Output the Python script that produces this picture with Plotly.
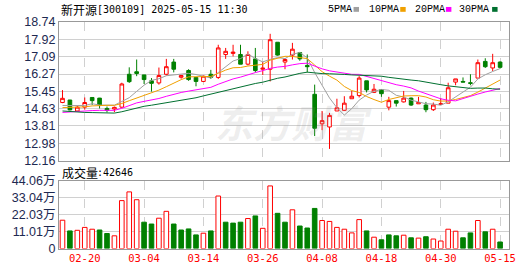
import plotly.graph_objects as go
import pandas as pd

# ---------------- data ----------------
dates = ["02-17", "02-18", "02-19", "02-20", "02-21", "02-24", "02-25", "02-26", "02-27", "02-28",
         "03-03", "03-04", "03-05", "03-06", "03-07", "03-10", "03-11", "03-12", "03-13", "03-14",
         "03-17", "03-18", "03-19", "03-20", "03-21", "03-24", "03-25", "03-26", "03-27", "03-28",
         "03-31", "04-01", "04-02", "04-03", "04-07", "04-08", "04-09", "04-10", "04-11", "04-14",
         "04-15", "04-16", "04-17", "04-18", "04-21", "04-22", "04-23", "04-24", "04-25", "04-28",
         "04-29", "04-30", "05-06", "05-07", "05-08", "05-09", "05-12", "05-13", "05-14", "05-15"]

opens = [14.92, 15.04, 14.52, 14.70, 15.16, 15.13, 14.64, 14.61, 14.70, 16.26,
         16.38, 16.23, 15.95, 15.85, 16.26, 16.84, 16.12, 16.44, 16.11, 15.92,
         16.26, 16.11, 17.20, 17.25, 17.20, 16.74, 16.99, 16.50, 16.50, 17.78,
         16.84, 17.17, 17.29, 16.68, 15.31, 13.91, 13.76, 14.52, 14.55, 15.10,
         15.25, 15.95, 15.40, 15.53, 14.70, 15.01, 14.95, 15.13, 14.86, 14.80,
         14.58, 14.83, 14.89, 15.89, 15.92, 15.86, 16.08, 16.87, 16.56, 16.84]
highs = [15.51, 15.04, 14.76, 15.16, 15.16, 15.14, 14.73, 14.73, 15.86, 16.59,
         16.96, 16.23, 16.08, 16.58, 16.99, 16.99, 16.22, 16.50, 16.11, 16.20,
         16.47, 17.66, 17.51, 17.66, 17.66, 17.35, 17.51, 16.84, 18.18, 17.78,
         17.02, 17.75, 17.32, 17.20, 15.77, 14.52, 14.43, 15.10, 15.22, 15.47,
         16.17, 15.95, 15.80, 15.56, 15.19, 15.01, 15.47, 15.16, 15.19, 14.95,
         14.92, 15.13, 15.86, 16.04, 16.11, 16.26, 16.96, 17.02, 17.23, 16.87]
lows = [14.89, 14.55, 14.48, 14.58, 14.80, 14.64, 14.45, 14.46, 14.67, 15.85,
        16.17, 15.80, 15.44, 15.77, 16.20, 16.35, 16.05, 15.95, 15.69, 15.89,
        16.04, 16.04, 16.99, 17.11, 16.74, 16.68, 16.35, 16.23, 15.92, 17.14,
        16.50, 16.96, 16.90, 16.35, 13.33, 13.61, 12.72, 14.52, 14.52, 15.10,
        15.16, 15.40, 15.37, 15.19, 14.55, 14.73, 14.92, 14.76, 14.86, 14.46,
        14.52, 14.80, 14.89, 15.74, 15.89, 15.74, 16.08, 16.56, 16.41, 16.53]
closes = [15.12, 14.57, 14.70, 14.92, 15.01, 14.80, 14.55, 14.69, 15.80, 15.91,
          16.30, 16.01, 15.83, 16.20, 16.62, 16.50, 16.20, 16.01, 15.92, 16.17,
          16.11, 17.51, 17.35, 17.31, 16.74, 17.20, 16.44, 16.55, 17.90, 17.17,
          16.96, 17.45, 16.99, 16.62, 13.70, 14.06, 14.31, 14.67, 14.89, 15.22,
          16.08, 15.52, 15.55, 15.34, 15.01, 14.89, 15.13, 14.80, 14.92, 14.58,
          14.80, 14.86, 15.62, 16.04, 15.89, 15.83, 16.81, 16.62, 16.81, 16.59]
# volume, in 万 (10k lots)
volumes = [18.5, 11.5, 11.9, 13.8, 12.6, 12.1, 9.8, 8.3, 31.3, 37.0,
           31.9, 17.2, 16.0, 19.8, 24.3, 16.0, 12.1, 12.8, 8.9, 10.0,
           11.5, 34.3, 17.2, 16.6, 17.2, 19.6, 21.3, 13.2, 40.9, 23.0,
           17.2, 25.3, 14.7, 13.4, 26.2, 18.3, 17.7, 13.8, 12.6, 10.2,
           18.9, 11.5, 7.4, 5.7, 8.9, 8.3, 8.7, 7.0, 6.8, 7.7,
           6.2, 4.9, 12.6, 11.3, 7.0, 10.2, 18.3, 10.9, 12.6, 4.2646]
# estimated closes of the sessions before the visible window (feed the moving averages)
prior_closes = [15.60, 15.40, 15.30, 15.20, 15.00, 14.94, 14.80, 13.90, 13.30, 13.16,
                14.00, 14.30, 14.50, 14.60, 14.60, 14.64, 14.60, 13.90, 13.50, 13.56,
                14.55, 14.62, 14.68, 14.55, 14.50, 14.57, 14.70, 14.92, 14.59]

price_ticks = [12.16, 12.98, 13.81, 14.63, 15.45, 16.27, 17.09, 17.92, 18.74]
price_tick_labels = ["12.16", "12.98", "13.81", "14.63", "15.45", "16.27", "17.09", "17.92", "18.74"]
vol_ticks = [0, 11.015, 22.03, 33.045, 44.06]
vol_tick_labels = ["0", "11.01万", "22.03万", "33.04万", "44.06万"]
date_tick_labels = ["02-20", "03-04", "03-14", "03-26", "04-08", "04-18", "04-30", "05-15"]

ma_periods = [5, 10, 20, 30]
ma_names = ["5PMA", "10PMA", "20PMA", "30PMA"]
ma_colors = ["#a0a0a0", "#f0a000", "#ff00ff", "#007030"]

stock_name = "新开源"
stock_info = "[300109] 2025-05-15 11:30"
vol_title = "成交量"
vol_now = ":42646"
watermark = "东方财富"

RED = "#ff0000"
GREEN = "#008000"

# ---------------- helpers (pixel -> paper) ----------------
L, R, T, B, W, H = 56, 21, 22, 20, 530, 276
PW, PH = W - L - R, H - T - B
def px(x):
    return (x - L) / PW
def py(y):
    return 1 - (y - T) / PH

xs = list(range(len(dates)))
all_closes = pd.Series(prior_closes + closes)
n_prior = len(prior_closes)

fig = go.Figure()

fig.add_trace(go.Candlestick(
    x=xs, open=opens, high=highs, low=lows, close=closes,
    increasing=dict(line=dict(color=RED, width=1), fillcolor="white"),
    decreasing=dict(line=dict(color=GREEN, width=1), fillcolor=GREEN),
    whiskerwidth=0, xaxis="x", yaxis="y", showlegend=False, hoverinfo="skip"))

for n, name, col in zip(ma_periods, ma_names, ma_colors):
    ma = all_closes.rolling(n).mean().iloc[n_prior:].tolist()
    fig.add_trace(go.Scatter(x=xs, y=ma, mode="lines", line=dict(color=col, width=1),
                             name=name, showlegend=False, xaxis="x", yaxis="y", hoverinfo="skip"))

prev = [prior_closes[-1]] + closes[:-1]
up = [c >= p for c, p in zip(closes, prev)]
fig.add_trace(go.Bar(
    x=xs, y=volumes, width=0.62,
    marker=dict(color=["white" if u else GREEN for u in up],
                line=dict(color=[RED if u else GREEN for u in up], width=1)),
    xaxis="x2", yaxis="y2", showlegend=False, hoverinfo="skip"))

tickpos = [dates.index(d) for d in date_tick_labels]
xrange = [-0.47, 60.2]
common_x = dict(range=xrange, tickvals=tickpos, showgrid=True, gridcolor="#d0d0d0",
                griddash="dash", gridwidth=1, zeroline=False, showline=True, mirror=True,
                linecolor="#999999", linewidth=1, ticks="", fixedrange=True)
common_y = dict(showgrid=True, gridcolor="#d0d0d0", gridwidth=1, zeroline=False,
                showline=True, mirror=True, linecolor="#999999", linewidth=1, ticks="",
                tickfont=dict(family="Liberation Sans, Noto Sans CJK SC", size=12.5, color="#1d2951"))

fig.update_layout(
    width=W, height=H, margin=dict(l=L, r=R, t=T, b=B),
    paper_bgcolor="white", plot_bgcolor="white", showlegend=False,
    xaxis=dict(domain=[0, 1], anchor="y", showticklabels=False, rangeslider=dict(visible=False), **common_x),
    xaxis2=dict(domain=[0, 1], anchor="y2", showticklabels=True, ticktext=date_tick_labels,
                tickfont=dict(family="DejaVu Sans Mono", size=10.5, color=RED), **common_x),
    yaxis=dict(domain=[py(165), 1], range=[price_ticks[0], price_ticks[-1]], tickvals=price_ticks,
               ticktext=price_tick_labels, **common_y),
    yaxis2=dict(domain=[py(255.5), py(186)], range=[0, vol_ticks[-1]], tickvals=vol_ticks,
                ticktext=vol_tick_labels, **common_y),
)

ann = []
# watermark (drawn faintly)
ann.append(dict(text=watermark, x=px(292), y=py(94), xref="paper", yref="paper", showarrow=False,
                font=dict(family="Noto Sans CJK SC", size=38, color="rgba(150,150,150,0.16)",
                          weight="bold", style="italic")))
# title
ann.append(dict(text=stock_name, x=px(56), y=py(9), xref="paper", yref="paper", xanchor="left",
                yanchor="middle", showarrow=False, font=dict(family="Noto Sans CJK SC", size=12, color="black")))
ann.append(dict(text=stock_info, x=px(92), y=py(9), xref="paper", yref="paper", xanchor="left",
                yanchor="middle", showarrow=False, font=dict(family="DejaVu Sans Mono", size=10, color="black")))
# volume title
ann.append(dict(text=vol_title, x=px(57), y=py(177), xref="paper", yref="paper", xanchor="left",
                yanchor="middle", showarrow=False, font=dict(family="Noto Sans CJK SC", size=12, color="black")))
ann.append(dict(text=vol_now, x=px(92), y=py(177), xref="paper", yref="paper", xanchor="left",
                yanchor="middle", showarrow=False, font=dict(family="DejaVu Sans Mono", size=10, color="black")))

shapes = []
legend_text_x = [325, 366, 412, 457]
legend_box_x = [352.5, 399.5, 445.5, 492]
for name, col, tx, bx in zip(ma_names, ma_colors, legend_text_x, legend_box_x):
    ann.append(dict(text=name, x=px(tx), y=py(9), xref="paper", yref="paper", xanchor="left",
                    yanchor="middle", showarrow=False,
                    font=dict(family="Liberation Mono", size=10, color="black")))
    shapes.append(dict(type="rect", xref="paper", yref="paper", x0=px(bx), x1=px(bx + 5.5),
                       y0=py(11.5), y1=py(6.5), fillcolor=col, line=dict(width=0), layer="above"))

fig.update_layout(annotations=ann, shapes=shapes)
fig.write_html("out.html")
